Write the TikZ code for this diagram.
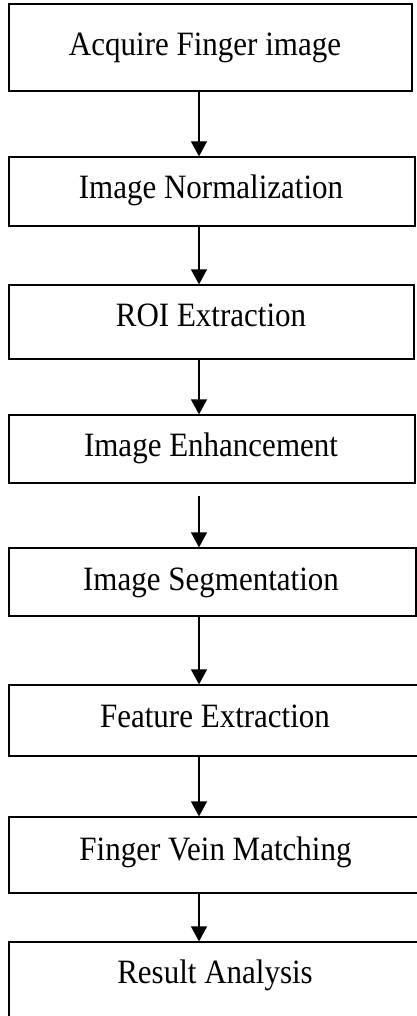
\documentclass[tikz,border=0pt]{standalone}
\usepackage{fontspec}
\setmainfont{Liberation Serif}
\usetikzlibrary{arrows.meta}
\begin{document}
\begin{tikzpicture}[x=1pt,y=-1pt,
  box/.style={draw,line width=1.3pt,inner sep=0pt,rectangle},
  lbl/.style={anchor=base,inner sep=0pt,font=\fontsize{31}{37}\selectfont},
  arr/.style={line width=1.3pt,-{Triangle[width=16pt,length=15pt]}}]
\useasboundingbox (0,0) rectangle (417,1016);
\clip (0,0) rectangle (417,1016);
\coordinate (ax) at (199,0);
% boxes: (l,t,r,b)
\node[box,minimum width=403pt,minimum height=87pt] (b1) at (210.5,47.5) {};
\node[box,minimum width=406pt,minimum height=69pt] (b2) at (212,191.5) {};
\node[box,minimum width=405pt,minimum height=74pt] (b3) at (211.5,322) {};
\node[box,minimum width=406pt,minimum height=68pt] (b4) at (212,449) {};
\node[box,minimum width=407pt,minimum height=68pt] (b5) at (212.5,582) {};
\node[box,minimum width=411pt,minimum height=71pt] (b6) at (214.5,720.5) {};
\node[box,minimum width=411pt,minimum height=76pt] (b7) at (214.5,855) {};
\node[box,minimum width=411pt,minimum height=98pt] (b8) at (214.5,991) {};
% labels
\node[lbl] (t1) at (205,56) {\scalebox{1}[1.1]{Acquire Finger image}};
\node[lbl] (t2) at (211,199) {\scalebox{1}[1.1]{Image Normalization}};
\node[lbl] (t3) at (211,326.5) {\scalebox{1}[1.1]{ROI Extraction}};
\node[lbl] (t4) at (211,456.5) {\scalebox{1}[1.1]{Image Enhancement}};
\node[lbl] (t5) at (211,590.5) {\scalebox{1}[1.1]{Image Segmentation}};
\node[lbl] (t6) at (215,727) {\scalebox{1}[1.1]{Feature Extraction}};
\node[lbl] (t7) at (215.5,860) {\scalebox{1}[1.1]{Finger Vein Matching}};
\node[lbl] (t8) at (215,983) {\scalebox{1}[1.1]{Result Analysis}};
% arrows
\draw[arr] (b1.south -| ax) -- (b2.north -| ax);
\draw[arr] (b2.south -| ax) -- (b3.north -| ax);
\draw[arr] (b3.south -| ax) -- (b4.north -| ax);
\draw[arr] ([yshift=-12pt]b4.south -| ax) -- (b5.north -| ax);
\draw[arr] (b5.south -| ax) -- (b6.north -| ax);
\draw[arr] (b6.south -| ax) -- (b7.north -| ax);
\draw[arr] (b7.south -| ax) -- (b8.north -| ax);
\end{tikzpicture}
\end{document}
